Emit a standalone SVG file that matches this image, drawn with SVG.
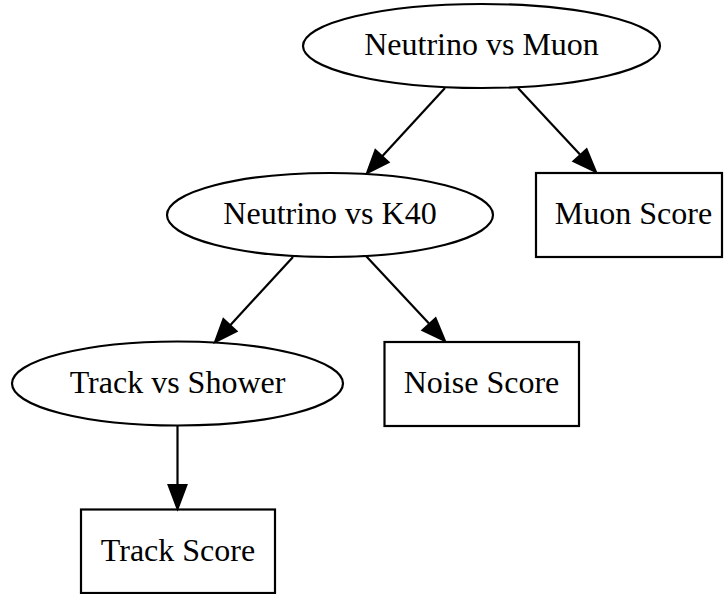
<svg xmlns="http://www.w3.org/2000/svg" width="724" height="594" viewBox="0 0 724 594">
<style>
.shape{fill:none;stroke:#000;stroke-width:2.2}
.lbl{font-family:"Liberation Serif","Times New Roman",serif;font-size:32px;fill:#000;text-anchor:middle}
.edge line{stroke:#000;stroke-width:2.2}
.edge polygon{fill:#000;stroke:#000;stroke-width:2}
</style>
<rect width="724" height="594" fill="#fff"/>
<g id="connectors" class="edge">
<line x1="445" y1="88" x2="382" y2="156.5"/>
<polygon points="367,173 388.6,162.2 375.4,150.0"/>
<line x1="518" y1="88" x2="580" y2="154.5"/>
<polygon points="596,172 586.6,149.1 573.4,161.3"/>
<line x1="293" y1="257" x2="230" y2="325.5"/>
<polygon points="215,342 236.6,331.2 223.4,319.0"/>
<line x1="366" y1="256" x2="429" y2="323.5"/>
<polygon points="445,341 435.6,318.1 422.4,330.3"/>
<line x1="177.5" y1="425.5" x2="177.5" y2="486"/>
<polygon points="177.5,509 168.5,485 186.5,485"/>
</g>
<g id="nu_vs_muon">
<ellipse class="shape" cx="481.5" cy="46" rx="178.5" ry="42"/>
<text class="lbl" x="481.5" y="55">Neutrino vs Muon</text>
</g>
<g id="muon_score">
<rect class="shape" x="536" y="173" width="186" height="84"/>
<text class="lbl" x="633.5" y="224">Muon Score</text>
</g>
<g id="nu_vs_k40">
<ellipse class="shape" cx="330" cy="215" rx="163" ry="42"/>
<text class="lbl" x="330" y="224">Neutrino vs K40</text>
</g>
<g id="noise_score">
<rect class="shape" x="384.5" y="342" width="194.5" height="84"/>
<text class="lbl" x="481.5" y="393">Noise Score</text>
</g>
<g id="track_vs_shower">
<ellipse class="shape" cx="177.5" cy="383.5" rx="165.5" ry="42"/>
<text class="lbl" x="177.5" y="393">Track vs Shower</text>
</g>
<g id="track_score">
<rect class="shape" x="81" y="509.5" width="194" height="83.5"/>
<text class="lbl" x="178" y="561">Track Score</text>
</g>
</svg>
